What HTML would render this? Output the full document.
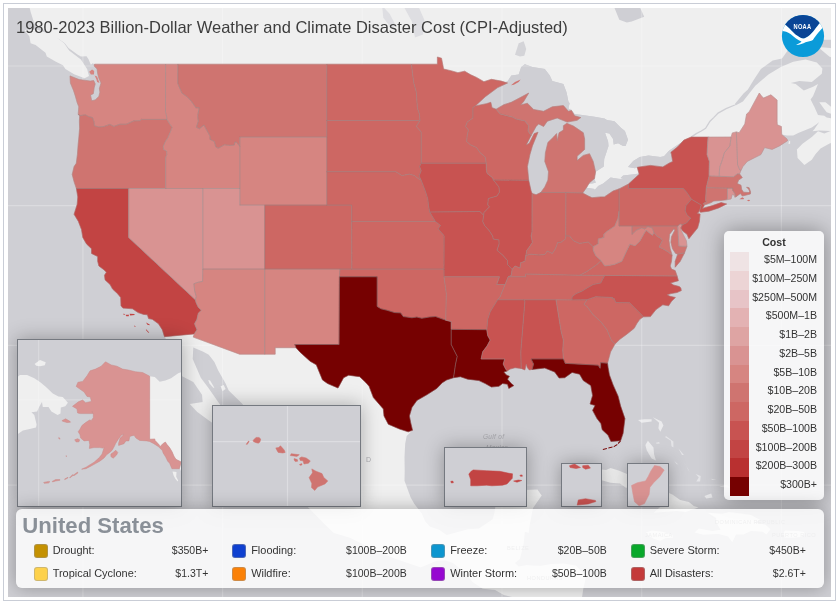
<!DOCTYPE html>
<html><head><meta charset="utf-8"><title>Billion-Dollar Disaster Cost Map</title>
<style>
html,body{margin:0;padding:0;background:#fff;}
body{width:839px;height:605px;position:relative;overflow:hidden;font-family:"Liberation Sans",sans-serif;}
.frame{position:absolute;left:3px;top:3px;width:833px;height:598px;border:1px solid #c9cdd6;box-sizing:border-box;}
.map{position:absolute;left:8px;top:8px;width:823px;height:589px;background:#cfcfd4;overflow:hidden;}
.map svg.m{position:absolute;left:0;top:0;}
.title{position:absolute;left:8px;top:7px;font-size:16.5px;color:#3d3d3d;white-space:nowrap;line-height:24px;}
.logo{position:absolute;left:773px;top:6px;}
.ins{position:absolute;border:1px solid #757980;background:#cfcfd4;overflow:hidden;box-shadow:0 0 18px rgba(0,0,0,0.3);}
.ins svg{display:block;}
.legend{position:absolute;left:716px;top:223px;width:100px;height:269px;background:rgba(255,255,255,0.8);border-radius:5px;box-shadow:0 0 22px rgba(0,0,0,0.36);}
.lt{position:absolute;left:0;width:100px;text-align:center;top:4px;font-weight:bold;font-size:10.6px;color:#333;line-height:14px;}
.lr{position:absolute;left:0;width:100px;height:18.73px;}
.sw{position:absolute;left:6px;top:0;width:19px;height:18.8px;}
.ll{position:absolute;right:7px;top:-2px;line-height:18.7px;font-size:10.6px;color:#333;white-space:nowrap;}
.bp{position:absolute;left:8.3px;top:500.8px;width:807.5px;height:79.5px;background:rgba(255,255,255,0.8);border-radius:6px;box-shadow:0 0 18px rgba(0,0,0,0.3);}
.bt{position:absolute;left:6px;top:4px;font-weight:bold;font-size:22.15px;color:#8a9098;line-height:26px;white-space:nowrap;}
.bs{position:absolute;width:12px;height:12px;border-radius:3px;border:1px solid rgba(150,150,150,0.45);box-sizing:content-box;}
.bl{position:absolute;font-size:10.95px;color:#333;line-height:15px;white-space:nowrap;}
.bv{position:absolute;font-size:10.5px;color:#333;line-height:15px;white-space:nowrap;}
</style></head><body>
<div class="frame"></div>
<div class="map">
<svg class="m" width="823" height="589" viewBox="0 0 823 589">
<g fill="#efefef" stroke="none">
<path d="M-15.9,-33.1L13.9,-33.1L10.2,-14.5L20.1,-6.4L22.6,3.7L26.3,15.6L33.8,20.6L42.5,27.4L51.2,31.3L56.8,35.2L60.5,40.0L69.8,46.7L72.9,48.6L78.5,48.3L80.4,51.1L82.2,55.3L82.9,56.8L84.7,55.3L86.5,56.2L102.1,63.8L244.9,65.7L394.0,65.7L431.2,63.8L456.1,69.4L480.9,78.7L495.8,76.8L499.5,75.0L503.3,67.5L510.7,66.6L513.2,59.1L516.9,56.2L524.4,59.1L536.8,61.0L541.8,67.5L544.3,73.1L555.4,75.9L558.5,84.2L560.4,93.4L561.6,95.2L560.4,100.6L563.5,102.4L566.6,106.0L574.1,106.9L586.5,108.7L596.4,110.5L598.9,112.0L606.4,113.2L612.6,119.4L616.9,123.0L620.0,131.8L617.5,137.9L615.1,137.9L610.1,135.3L605.7,136.5L605.1,130.9L601.4,125.6L597.0,124.7L600.1,133.5L600.5,137.9L596.2,150.9L595.8,158.6L587.7,163.7L586.5,170.5L587.7,174.7L584.0,175.5L579.7,175.5L579.0,179.7L586.5,180.9L586.5,182.2L590.2,178.0L595.2,175.5L602.6,169.6L610.1,170.8L616.3,171.3L612.6,170.1L615.1,167.4L626.2,166.2L631.0,165.4L629.3,159.3L626.9,160.3L620.0,158.9L625.2,152.9L631.8,149.1L640.5,147.4L652.3,149.1L656.0,148.3L661.0,142.8L670.9,136.1L683.1,129.1L698.3,134.4L723.1,134.4L741.7,123.9L760.4,123.9L773.7,126.5L779.0,127.4L785.2,127.4L790.8,124.7L797.6,122.1L803.8,119.4L808.8,115.9L811.3,114.1L806.3,121.2L804.5,123.3L811.3,122.4L822.5,123.0L828.7,123.9L828.7,111.4L818.7,109.6L816.3,107.8L810.0,106.9L806.3,98.8L802.6,91.6L805.1,87.9L810.0,75.9L805.1,78.7L795.8,82.4L787.7,75.9L782.7,75.0L791.4,73.1L803.8,74.1L813.8,65.7L814.4,60.4L808.8,54.4L797.6,51.5L785.2,53.8L772.8,59.1L760.4,66.6L747.3,77.8L734.9,93.4L727.5,97.4L726.8,96.1L735.5,85.5L739.9,81.5L745.5,72.2L752.9,61.0L764.7,52.5L774.0,50.6L786.4,33.3L803.8,31.3L816.3,31.7L841.1,32.3L841.1,-33.1L634.9,-33.1L631.2,-2.4L636.2,8.7L623.7,13.6L618.8,14.6L611.3,11.7L606.4,-0.3L598.9,-8.4L589.0,-33.1Z"/>
<path d="M16.4,21.9L28.8,21.5L46.2,27.4L56.2,35.2L61.1,42.5L72.9,51.5L79.1,61.0L81.0,67.9L76.6,70.3L66.1,66.2L57.4,61.0L54.9,57.2L47.5,53.4L38.8,48.6L37.5,44.8L27.6,37.1L22.6,35.2L21.4,28.4Z"/>
<path d="M-15.9,-6.4L-25.8,-22.8L-34.5,-29.0L-28.3,-14.5L-18.4,-2.4Z"/>
<path d="M577.8,114.1L586.5,112.0L593.9,112.3L597.7,117.7L590.2,119.4L580.3,116.4Z"/>
<path d="M811.3,94.3L815.6,100.3L818.7,104.2L828.7,107.8L834.9,111.4L841.1,103.3L828.7,103.3L817.5,94.3Z"/>
<path d="M810.0,39.1L822.5,40.0L841.1,50.6L834.9,53.4L821.2,48.6Z"/>
<path d="M828.7,123.9L822.5,123.0L816.3,125.6L810.0,123.3L803.8,129.1L794.5,135.8L788.9,141.4L789.6,150.0L796.4,156.9L803.8,151.7L807.6,146.0L812.5,140.5L821.6,135.6L834.9,130.9L834.9,123.9Z"/>
<path d="M780.9,133.5L782.1,132.7L782.1,135.8L780.5,136.1Z"/>
<path d="M156.5,328.7L162.7,338.7L166.7,351.0L171.0,359.7L174.1,368.3L185.3,374.0L194.0,386.8L194.6,393.9L181.8,396.0L189.0,403.7L200.2,412.0L210.2,419.0L216.4,428.6L218.9,441.0L230.0,449.1L241.8,457.3L246.2,464.3L249.3,462.0L251.8,455.9L241.2,446.4L236.2,438.2L228.2,421.7L221.3,410.6L216.7,403.0L210.2,393.9L200.8,380.4L192.8,369.7L184.7,351.0L185.3,339.4L195.3,343.8L200.8,346.7L206.4,353.9L210.2,362.6L217.6,375.5L220.7,382.6L233.8,395.3L240.0,403.7L251.1,412.0L256.7,427.2L266.1,434.1L271.0,442.3L289.4,460.0L298.3,469.4L303.3,482.8L303.9,494.1L298.3,497.4L315.7,515.3L325.7,525.1L341.8,529.7L349.9,533.8L370.4,544.0L387.8,551.1L405.5,556.9L412.6,559.5L428.8,552.8L437.4,552.4L444.9,555.0L456.1,564.0L464.8,574.3L474.7,580.7L487.1,582.0L495.8,587.1L512.0,590.9L519.4,590.9L523.1,594.8L526.9,599.8L574.1,599.8L573.4,593.5L575.3,580.7L578.4,567.9L567.9,557.6L555.4,555.6L543.0,556.0L533.1,557.8L524.4,557.6L518.8,556.9L510.7,558.5L507.0,555.0L512.0,551.1L515.7,535.5L516.9,523.8L520.7,525.1L521.9,515.9L525.0,500.1L533.7,487.5L529.4,481.5L515.7,482.1L497.7,485.5L489.0,488.8L488.4,491.5L486.5,504.7L484.6,511.3L471.0,520.5L459.8,521.2L438.7,527.1L431.2,521.8L421.9,518.5L417.2,513.3L413.8,505.4L406.4,496.1L402.7,489.5L396.5,472.8L396.7,462.7L396.5,449.1L397.2,435.5L398.7,427.9L404.5,422.3L387.8,410.6L369.1,382.6L356.7,362.6L329.4,368.3L313.2,356.8L294.6,336.5L257.4,339.4L232.5,339.4L189.0,323.2L164.2,324.7Z"/>
<path d="M200.2,371.9L202.1,372.6L206.4,379.7L205.2,379.7L201.5,375.5Z"/>
<path d="M212.6,378.3L215.7,376.9L217.6,381.1L214.5,383.3Z"/>
<path d="M556.1,477.9L567.9,467.4L577.8,463.0L588.0,460.7L598.0,462.0L602.6,460.0L611.3,462.7L623.7,468.1L636.2,471.4L648.6,478.1L653.6,481.5L664.7,486.8L672.2,492.1L680.9,494.1L685.8,498.1L690.4,499.4L677.8,504.1L669.1,503.1L645.7,504.7L653.3,498.1L643.6,493.5L636.2,488.8L630.0,482.1L617.5,479.5L611.9,475.5L602.6,474.8L592.7,472.1L589.0,466.7L580.3,472.1L572.8,473.4L564.1,478.1Z"/>
<path d="M579.0,478.8L585.2,477.5L585.9,481.5L580.9,483.5Z"/>
<path d="M637.8,524.4L643.6,522.5L654.8,523.8L664.7,527.1L665.0,529.7L657.3,530.3L652.3,532.7L646.1,531.0L639.9,527.1Z"/>
<path d="M699.5,504.7L714.4,505.8L721.2,504.1L733.0,505.4L743.0,507.1L752.3,512.0L746.7,514.6L757.3,516.6L762.5,521.2L758.5,526.4L754.5,523.8L743.0,523.1L735.5,526.4L728.1,526.4L724.3,534.2L720.0,528.6L710.3,526.0L699.5,526.4L695.2,526.7L686.5,524.4L690.8,520.5L704.5,523.1L712.5,521.8L708.2,514.6L708.2,510.0Z"/>
<path d="M775.6,524.2L777.1,522.5L790.2,522.9L796.1,524.0L796.4,526.4L793.3,529.0L785.2,529.7L776.5,529.7Z"/>
<path d="M630.0,412.0L636.2,411.3L643.6,411.3L643.6,413.4L633.7,414.8Z" fill="#ebebed"/>
<path d="M644.9,409.2L653.6,413.4L655.4,417.6L652.3,423.8L650.4,420.3L651.1,414.8Z" fill="#ebebed"/>
<path d="M639.9,432.7L645.5,439.6L646.1,446.4L648.0,452.5L643.6,450.5L638.7,442.3L637.4,436.9Z" fill="#ebebed"/>
<path d="M648.0,434.8L651.1,434.1L651.7,435.5L648.6,435.8Z" fill="#e4e4e7"/>
<path d="M657.9,427.9L665.4,433.4L665.4,439.6L663.5,438.2L662.9,432.7L657.3,429.3Z" fill="#e4e4e7"/>
<path d="M670.3,440.3L675.9,447.1L674.0,447.1L672.2,443.7Z" fill="#e4e4e7"/>
<path d="M666.0,452.5L670.3,456.6L668.5,455.9Z" fill="#e4e4e7"/>
<path d="M675.9,453.9L681.5,464.0L680.3,461.3L677.2,456.6Z" fill="#e4e4e7"/>
<path d="M687.7,466.1L692.7,468.1L692.1,473.4L688.3,473.4L690.8,469.4Z" fill="#e4e4e7"/>
<path d="M696.4,488.1L703.2,485.5L704.5,489.5L698.3,490.5Z" fill="#ebebed"/>
<path d="M702.6,470.8L708.2,471.4L704.5,472.1Z" fill="#e4e4e7"/>
<path d="M711.3,478.8L718.1,476.8L723.1,479.5L718.1,479.5Z" fill="#e4e4e7"/>
</g>
<g fill="#cfcfd4" stroke="none">
<path d="M462.3,104.2L474.7,87.9L489.6,77.8L499.5,73.1L503.3,67.5L510.7,66.6L513.2,59.1L516.9,56.2L524.4,59.1L536.8,61.0L541.8,67.5L544.3,73.1L555.4,75.9L558.5,84.2L560.4,93.4L561.6,95.2L560.4,100.6L563.5,102.4L561.6,106.0L543.0,107.8L518.2,106.0L493.3,106.0Z"/>
<path d="M515.7,141.4L521.9,122.1L536.8,109.6L553.0,107.8L560.4,113.2L553.0,129.1L544.3,155.2L544.3,180.5L530.6,192.2L518.2,187.2L515.7,163.7Z"/>
<path d="M556.7,113.2L562.9,100.6L563.5,102.4L566.6,106.0L574.1,106.9L586.5,108.7L596.4,110.5L598.9,112.0L606.4,113.2L612.6,119.4L616.9,123.0L620.0,131.8L617.5,137.9L615.1,137.9L610.1,135.3L605.7,136.5L605.1,130.9L601.4,125.6L597.0,124.7L600.1,133.5L600.5,137.9L596.2,150.9L595.8,158.6L587.7,163.7L586.5,170.5L587.7,174.7L584.0,175.5L579.7,175.5L579.0,179.7L576.6,182.2L572.8,177.2L577.8,167.1L580.3,158.6L571.6,156.9L565.4,153.4L567.9,137.9L567.9,125.6L556.7,120.3Z"/>
<path d="M579.0,179.7L586.5,180.9L586.5,182.2L590.2,178.0L595.2,175.5L602.6,169.6L610.1,170.8L616.3,171.3L612.6,170.1L615.1,167.4L626.2,166.2L631.0,165.4L634.9,168.8L623.7,180.5L605.1,190.5L586.5,193.8L571.6,188.9L574.1,180.5Z"/>
<path d="M629.3,159.3L626.9,160.3L620.0,158.9L625.2,152.9L631.8,149.1L640.5,147.4L652.3,149.1L656.0,148.3L661.0,142.8L670.9,136.1L679.6,130.4L679.6,136.1L668.5,146.6L667.2,158.6L654.8,163.7L636.2,162.0L630.0,163.7Z"/>
<path d="M507.0,46.7L510.7,35.2L515.7,33.3L518.2,41.0L516.3,47.7L512.0,48.6Z" fill="#d4d4d8"/>
<path d="M407.0,29.4L415.1,26.4L416.3,11.7L410.1,-2.4L405.2,-22.8L386.5,-33.1L395.2,-2.4L403.9,13.6Z" fill="#dedee2"/>
<path d="M382.8,19.6L387.8,17.6L381.6,5.7L374.1,-2.4L375.3,9.7Z" fill="#dedee2"/>
<path d="M700.1,128.3L702.0,129.1L701.4,137.9L699.5,146.6L698.9,139.6Z"/>
</g>
<path d="M683.1,129.1L688.3,125.6L693.3,123.0L697.6,120.3L702.0,113.2L705.7,109.6L710.1,105.1L718.1,100.6L726.8,97.0" fill="none" stroke="#cfcfd4" stroke-width="1.3"/>
<g stroke="#fff" stroke-opacity="0.25" stroke-width="1.2" fill="none">
<path d="M74.9,0V589"/>
<path d="M214.6,0V589"/>
<path d="M354.3,0V589"/>
<path d="M494.0,0V589"/>
<path d="M633.7,0V589"/>
<path d="M773.4,0V589"/>
<path d="M0,58.0H823"/>
<path d="M0,197.7H823"/>
<path d="M0,337.4H823"/>
<path d="M0,477.1H823"/>
</g>
<g stroke-linejoin="round">
<path d="M86.5,56.2L157.6,56.2L157.5,103.7L158.5,107.8L159.0,111.4L133.4,111.4L131.9,112.7L125.7,112.9L118.3,116.2L112.0,116.2L105.8,118.4L101.9,116.4L95.9,118.5L90.9,119.1L86.3,117.7L86.0,113.7L84.5,109.6L81.0,108.7L77.3,106.8L72.3,107.5L70.2,106.4L70.8,98.8L69.2,94.7L67.3,87.9L65.5,82.4L62.4,75.0L62.0,67.9L71.1,71.6L77.9,72.4L82.2,73.1L85.7,72.6L87.2,75.9L86.2,79.6L85.3,85.7L82.5,87.0L83.7,92.8L87.2,91.9L90.9,88.4L91.9,84.2L91.4,80.5L93.0,75.0L90.9,70.3L89.7,65.7L89.1,61.0L86.2,58.1L86.5,56.2Z" fill="#d68581" stroke="#d68581" stroke-width="0.5"/>
<path d="M70.2,106.4L72.3,107.5L77.3,106.8L81.0,108.7L84.5,109.6L86.0,113.7L86.3,117.7L90.9,119.1L95.9,118.5L101.9,116.4L105.8,118.4L112.0,116.2L118.3,116.2L125.7,112.9L131.9,112.7L133.4,111.4L159.0,111.4L161.1,115.0L164.2,119.4L162.0,124.7L159.9,129.7L157.4,133.5L155.3,138.2L155.5,141.4L158.6,143.1L158.9,146.6L157.6,149.5L157.6,180.5L120.7,180.5L68.4,180.5L66.1,173.8L64.2,166.4L66.1,158.6L68.3,155.2L69.4,146.6L70.2,136.1L70.9,129.1L71.6,120.3L71.4,113.2L71.7,107.8L70.2,106.4Z" fill="#cf7470" stroke="#cf7470" stroke-width="0.5"/>
<path d="M68.4,180.5L120.7,180.5L120.7,229.5L187.4,291.8L188.2,294.8L190.3,299.3L193.4,302.3L190.3,305.3L189.0,311.3L186.6,315.8L189.0,321.7L186.3,325.9L156.5,328.7L154.3,321.7L150.5,315.8L144.3,311.3L140.6,310.6L139.4,306.8L135.6,306.4L130.1,304.6L124.5,300.8L114.9,300.1L113.0,297.8L112.7,289.5L109.6,285.7L104.6,281.1L102.1,276.5L97.1,271.9L96.5,267.3L98.4,264.2L95.9,261.7L90.9,258.0L89.7,253.3L89.7,248.6L83.5,245.4L83.5,240.7L78.5,235.9L74.8,229.5L73.5,221.5L70.4,213.4L66.1,206.3L69.2,196.3L69.8,188.9L68.4,180.5Z" fill="#c24443" stroke="#c24443" stroke-width="0.5"/>
<path d="M120.7,180.5L157.6,180.5L194.8,180.5L194.8,261.1L194.6,273.4L190.3,274.2L185.9,275.7L186.6,282.6L188.2,288.7L187.4,291.8L120.7,229.5L120.7,180.5Z" fill="#d99392" stroke="#d99392" stroke-width="0.5"/>
<path d="M157.6,56.2L169.8,56.2L169.8,75.4L173.9,85.1L179.1,88.8L183.5,93.4L187.8,99.7L191.2,99.7L189.7,107.8L190.3,113.2L188.4,119.3L191.5,120.7L195.9,117.0L197.7,120.3L202.1,128.3L202.1,131.4L206.4,133.5L207.7,138.8L210.2,140.3L216.4,136.8L222.0,137.4L226.3,137.0L226.9,134.0L228.2,133.9L231.9,138.4L231.9,180.5L194.8,180.5L157.6,180.5L157.6,149.5L158.9,146.6L158.6,143.1L155.5,141.4L155.3,138.2L157.4,133.5L159.9,129.7L162.0,124.7L164.2,119.4L161.1,115.0L159.0,111.4L158.5,107.8L157.5,103.7L157.6,56.2Z" fill="#d68581" stroke="#d68581" stroke-width="0.5"/>
<path d="M169.8,56.2L318.8,56.2L318.8,112.5L318.8,129.1L231.9,129.1L231.9,138.4L228.2,133.9L226.9,134.0L226.3,137.0L222.0,137.4L216.4,136.8L210.2,140.3L207.7,138.8L206.4,133.5L202.1,131.4L202.1,128.3L197.7,120.3L195.9,117.0L191.5,120.7L188.4,119.3L190.3,113.2L189.7,107.8L191.2,99.7L187.8,99.7L183.5,93.4L179.1,88.8L173.9,85.1L169.8,75.4L169.8,56.2Z" fill="#cf7470" stroke="#cf7470" stroke-width="0.5"/>
<path d="M231.9,138.4L231.9,129.1L318.8,129.1L318.8,163.7L318.8,197.1L256.7,197.1L231.9,197.1L231.9,180.5L231.9,138.4Z" fill="#d68581" stroke="#d68581" stroke-width="0.5"/>
<path d="M194.8,180.5L231.9,180.5L231.9,197.1L256.7,197.1L256.7,261.1L194.8,261.1L194.8,180.5Z" fill="#d99392" stroke="#d99392" stroke-width="0.5"/>
<path d="M194.8,261.1L256.7,261.1L256.7,346.2L231.6,346.2L185.2,329.1L186.3,325.9L189.0,321.7L186.6,315.8L189.0,311.3L190.3,305.3L193.4,302.3L190.3,299.3L188.2,294.8L187.4,291.8L188.2,288.7L186.6,282.6L185.9,275.7L190.3,274.2L194.6,273.4L194.8,261.1Z" fill="#d68581" stroke="#d68581" stroke-width="0.5"/>
<path d="M256.7,261.1L331.9,261.1L331.4,268.8L331.1,336.5L286.8,336.5L288.0,339.7L267.2,339.7L267.2,346.2L256.7,346.2L256.7,261.1Z" fill="#d68581" stroke="#d68581" stroke-width="0.5"/>
<path d="M256.7,197.1L318.8,197.1L343.7,197.1L343.7,213.4L343.8,261.1L331.9,261.1L256.7,261.1L256.7,197.1Z" fill="#cd6763" stroke="#cd6763" stroke-width="0.5"/>
<path d="M318.8,56.2L403.5,56.2L404.5,65.7L405.8,75.0L408.3,84.2L408.9,93.4L409.5,100.6L411.4,106.0L411.9,112.5L318.8,112.5L318.8,56.2Z" fill="#cd6763" stroke="#cd6763" stroke-width="0.5"/>
<path d="M318.8,112.5L411.9,112.5L408.3,118.5L413.2,123.9L413.2,155.2L411.6,158.6L413.2,162.8L411.1,167.9L413.2,172.3L410.1,170.5L406.4,167.6L401.4,166.1L394.0,167.6L387.8,163.7L318.8,163.7L318.8,129.1L318.8,112.5Z" fill="#cd6763" stroke="#cd6763" stroke-width="0.5"/>
<path d="M318.8,163.7L387.8,163.7L394.0,167.6L401.4,166.1L406.4,167.6L410.1,170.5L413.2,172.3L415.1,177.2L417.6,183.9L419.7,190.5L420.1,193.8L420.7,198.8L421.7,204.0L424.4,208.6L427.4,213.4L343.7,213.4L343.7,197.1L318.8,197.1L318.8,163.7Z" fill="#cd6763" stroke="#cd6763" stroke-width="0.5"/>
<path d="M343.7,213.4L427.4,213.4L432.5,217.5L430.0,220.7L436.1,227.8L436.0,261.1L343.8,261.1L343.7,213.4Z" fill="#cd6763" stroke="#cd6763" stroke-width="0.5"/>
<path d="M331.9,261.1L343.8,261.1L436.0,261.1L436.0,268.8L438.3,285.7L437.7,312.2L427.5,308.6L421.3,309.1L413.8,310.3L408.9,309.1L403.9,309.8L395.2,308.6L392.7,304.9L386.5,304.6L379.1,302.3L372.9,300.8L369.1,298.4L369.1,268.8L331.4,268.8L331.9,261.1Z" fill="#cd6763" stroke="#cd6763" stroke-width="0.5"/>
<path d="M331.4,268.8L369.1,268.8L369.1,298.4L372.9,300.8L379.1,302.3L386.5,304.6L392.7,304.9L395.2,308.6L403.9,309.8L408.9,309.1L413.8,310.3L421.3,309.1L427.5,308.6L437.7,312.2L443.2,313.6L443.2,321.4L443.2,336.5L446.1,342.3L449.2,348.4L447.4,356.8L446.8,361.1L445.5,369.7L438.7,371.9L434.3,374.7L428.8,380.4L418.8,386.8L408.9,392.4L403.9,399.5L401.4,407.9L402.7,414.8L404.5,422.3L400.2,423.8L391.5,421.0L380.3,416.2L376.0,407.9L375.3,400.9L365.4,389.6L361.1,378.3L358.0,374.7L351.7,368.7L340.6,367.2L335.6,369.7L330.0,380.0L319.5,375.5L314.5,371.9L308.3,356.8L302.1,353.2L292.1,344.2L288.0,339.7L286.8,336.5L331.1,336.5L331.4,268.8Z" fill="#760101" stroke="#760101" stroke-width="0.5"/>
<path d="M403.5,56.2L429.4,56.2L429.4,49.0L433.5,50.2L435.6,61.0L443.7,62.9L449.9,64.7L456.7,63.2L462.3,66.6L468.5,69.4L475.9,73.7L483.4,71.3L493.3,73.1L499.5,75.0L489.6,79.6L477.2,88.8L467.3,97.9L464.9,99.6L464.9,110.0L459.2,114.1L457.6,118.5L460.4,122.1L459.2,127.4L458.6,133.5L462.3,136.7L468.5,139.6L472.2,144.8L477.2,149.1L478.2,155.2L413.2,155.2L413.2,123.9L408.3,118.5L411.9,112.5L411.4,106.0L409.5,100.6L408.9,93.4L408.3,84.2L405.8,75.0L404.5,65.7L403.5,56.2Z" fill="#cd6763" stroke="#cd6763" stroke-width="0.5"/>
<path d="M413.2,155.2L478.2,155.2L478.4,162.0L479.1,165.4L484.6,169.8L485.4,172.0L490.9,178.9L491.5,183.9L489.0,188.0L480.3,190.5L479.7,197.1L481.5,198.8L475.9,204.5L475.7,207.3L471.9,203.5L421.7,204.0L420.7,198.8L420.1,193.8L419.7,190.5L417.6,183.9L415.1,177.2L413.2,172.3L411.1,167.9L413.2,162.8L411.6,158.6L413.2,155.2Z" fill="#c85351" stroke="#c85351" stroke-width="0.5"/>
<path d="M421.7,204.0L471.9,203.5L475.7,207.3L474.7,213.4L476.6,217.5L481.5,223.1L484.6,227.9L485.3,231.1L490.9,231.9L491.1,235.9L489.0,242.3L494.6,247.0L499.5,252.5L499.5,256.4L504.1,261.4L503.3,267.3L500.2,268.8L498.3,273.4L497.1,276.5L488.7,276.5L491.5,268.8L436.0,268.8L436.0,261.1L436.1,227.8L430.0,220.7L432.5,217.5L427.4,213.4L424.4,208.6L421.7,204.0Z" fill="#c85351" stroke="#c85351" stroke-width="0.5"/>
<path d="M436.0,268.8L491.5,268.8L488.7,276.5L497.1,276.5L494.6,282.6L492.1,288.7L489.6,291.8L485.9,297.8L482.2,303.8L479.7,311.3L478.8,321.7L443.2,321.4L443.2,313.6L437.7,312.2L438.3,285.7L436.0,268.8Z" fill="#cd6763" stroke="#cd6763" stroke-width="0.5"/>
<path d="M443.2,321.4L478.8,321.7L479.7,327.6L482.2,332.1L479.1,337.9L474.7,343.8L473.1,351.0L496.7,351.0L495.2,356.1L497.7,361.1L499.3,362.9L495.8,364.0L498.3,366.9L501.4,368.3L499.5,371.2L503.3,375.5L505.8,377.6L500.8,380.4L499.5,376.2L494.6,375.5L490.9,378.3L483.4,379.0L477.2,375.5L471.0,372.6L466.0,371.9L459.8,371.2L452.4,368.7L445.5,369.7L446.8,361.1L447.4,356.8L449.2,348.4L446.1,342.3L443.2,336.5L443.2,321.4Z" fill="#760101" stroke="#760101" stroke-width="0.5"/>
<path d="M467.3,97.9L478.4,95.7L482.8,94.3L484.0,99.7L488.1,101.2L492.1,106.0L504.5,109.1L508.2,111.1L516.9,112.9L520.7,117.7L520.0,123.0L523.1,127.4L518.2,137.0L521.3,135.3L526.2,125.6L530.0,124.2L526.9,131.8L524.4,137.9L521.9,146.6L519.4,158.6L520.7,172.3L485.4,172.0L484.6,169.8L479.1,165.4L478.4,162.0L478.2,155.2L477.2,149.1L472.2,144.8L468.5,139.6L462.3,136.7L458.6,133.5L459.2,127.4L460.4,122.1L457.6,118.5L459.2,114.1L464.9,110.0L464.9,99.6L467.3,97.9Z" fill="#cd6763" stroke="#cd6763" stroke-width="0.5"/>
<path d="M485.4,172.0L520.7,172.3L523.1,183.0L524.1,185.5L524.0,223.9L523.1,227.9L524.4,234.3L521.3,239.1L518.8,242.3L517.6,248.6L516.9,253.3L512.6,254.8L512.0,260.0L507.0,258.0L504.1,261.4L499.5,256.4L499.5,252.5L494.6,247.0L489.0,242.3L491.1,235.9L490.9,231.9L485.3,231.1L484.6,227.9L481.5,223.1L476.6,217.5L474.7,213.4L475.7,207.3L475.9,204.5L481.5,198.8L479.7,197.1L480.3,190.5L489.0,188.0L491.5,183.9L490.9,178.9L485.4,172.0Z" fill="#c85351" stroke="#c85351" stroke-width="0.5"/>
<path d="M532.8,184.5L536.8,178.9L539.9,172.1L540.5,163.7L536.8,153.4L537.4,144.8L539.9,134.4L545.5,129.1L548.6,125.6L549.2,132.7L551.1,124.7L555.4,122.1L555.4,117.7L558.8,115.3L565.4,118.0L575.3,124.7L576.6,130.9L576.6,141.4L569.1,148.3L569.1,152.6L575.3,147.4L581.5,145.7L585.2,153.4L587.5,163.7L586.5,170.5L581.5,174.7L578.4,179.7L574.7,185.0L557.9,184.5L532.8,184.5Z" fill="#cf7470" stroke="#cf7470" stroke-width="0.5"/>
<path d="M488.1,101.2L495.8,96.7L503.3,94.3L512.0,89.7L520.7,85.1L515.7,93.4L512.6,97.0L519.4,95.2L525.6,101.5L535.6,103.3L544.3,98.8L555.4,97.6L560.4,103.3L563.5,102.4L566.6,107.8L572.8,109.6L569.1,112.3L559.2,114.1L549.2,110.0L539.3,113.2L535.6,118.5L530.6,115.9L528.1,118.5L523.1,127.4L520.0,123.0L520.7,117.7L516.9,112.9L508.2,111.1L504.5,109.1L492.1,106.0L488.1,101.2Z" fill="#cf7470" stroke="#cf7470" stroke-width="0.5"/>
<path d="M524.1,185.5L528.1,186.7L532.8,184.5L557.9,184.5L557.7,227.9L557.3,231.1L553.0,234.3L549.8,234.3L547.4,240.7L544.3,245.4L539.3,243.0L536.8,246.5L530.6,247.0L523.1,246.2L519.4,247.0L517.6,248.6L518.8,242.3L521.3,239.1L524.4,234.3L523.1,227.9L524.0,223.9L524.1,185.5Z" fill="#cd6763" stroke="#cd6763" stroke-width="0.5"/>
<path d="M557.9,184.5L574.7,185.0L580.3,188.0L584.0,189.7L592.7,188.9L596.4,188.9L605.1,183.0L611.1,180.9L611.1,203.0L610.1,210.2L606.7,218.3L599.5,223.1L595.8,226.3L595.8,229.5L590.2,231.1L590.2,235.9L585.2,238.8L580.3,234.0L571.6,235.4L565.4,232.7L561.6,227.9L557.7,227.9L557.9,184.5Z" fill="#cd6763" stroke="#cd6763" stroke-width="0.5"/>
<path d="M517.6,248.6L519.4,247.0L523.1,246.2L530.6,247.0L536.8,246.5L539.3,243.0L544.3,245.4L547.4,240.7L549.8,234.3L553.0,234.3L557.3,231.1L557.7,227.9L561.6,227.9L565.4,232.7L571.6,235.4L580.3,234.0L585.2,238.8L585.2,242.3L587.7,247.8L593.1,252.6L589.0,256.4L579.0,263.4L571.8,267.3L517.6,266.0L517.6,268.8L500.2,268.8L503.3,267.3L504.1,261.4L507.0,258.0L512.0,260.0L512.6,254.8L516.9,253.3L517.6,248.6Z" fill="#cd6763" stroke="#cd6763" stroke-width="0.5"/>
<path d="M500.2,268.8L517.6,268.8L517.6,266.0L571.8,267.3L596.7,267.4L592.7,275.0L585.2,276.5L579.0,280.0L574.1,283.1L567.9,285.7L564.1,288.7L563.9,291.9L548.0,291.8L515.7,291.8L489.6,291.8L492.1,288.7L494.6,282.6L497.1,276.5L498.3,273.4L500.2,268.8Z" fill="#cd6763" stroke="#cd6763" stroke-width="0.5"/>
<path d="M489.6,291.8L515.7,291.8L516.9,293.3L512.8,343.8L513.2,360.4L507.0,359.7L502.0,361.1L499.3,362.9L497.7,361.1L495.2,356.1L496.7,351.0L473.1,351.0L474.7,343.8L479.1,337.9L482.2,332.1L479.7,327.6L478.8,321.7L479.7,311.3L482.2,303.8L485.9,297.8L489.6,291.8Z" fill="#c85351" stroke="#c85351" stroke-width="0.5"/>
<path d="M515.7,291.8L548.0,291.8L553.2,323.7L555.4,332.1L554.8,342.3L555.4,351.0L523.1,351.0L525.6,356.1L524.1,361.4L521.3,361.9L519.4,359.7L518.2,356.1L516.9,361.9L513.2,360.4L512.8,343.8L516.9,293.3L515.7,291.8Z" fill="#c85351" stroke="#c85351" stroke-width="0.5"/>
<path d="M548.0,291.8L563.9,291.9L579.0,291.8L575.9,296.3L579.0,298.6L585.2,306.8L593.3,314.3L598.9,321.7L603.3,332.1L607.0,336.0L602.6,343.8L599.5,355.2L592.7,354.7L592.1,360.3L590.2,357.2L557.2,355.4L555.4,351.0L554.8,342.3L555.4,332.1L553.2,323.7L548.0,291.8Z" fill="#cd6763" stroke="#cd6763" stroke-width="0.5"/>
<path d="M524.1,361.4L536.8,360.0L546.7,364.0L551.1,370.0L556.7,369.7L564.1,364.4L571.6,366.2L575.3,372.6L582.8,377.6L584.6,387.5L582.1,396.0L587.1,397.4L584.6,402.3L589.0,410.6L592.9,415.5L594.2,421.7L600.1,427.2L602.9,433.4L612.6,432.7L615.1,425.2L616.9,410.6L612.6,398.1L610.1,388.2L605.1,376.9L601.4,366.9L600.1,359.7L599.5,355.2L592.7,354.7L592.1,360.3L590.2,357.2L557.2,355.4L555.4,351.0L523.1,351.0L525.6,356.1L524.1,361.4Z" fill="#760101" stroke="#760101" stroke-width="0.5"/>
<path d="M579.0,291.8L587.7,288.7L604.5,289.5L604.5,291.0L606.0,290.3L607.8,294.5L621.6,294.8L635.5,308.8L631.8,311.3L628.7,315.8L626.2,320.3L618.8,326.2L611.9,331.3L607.0,336.0L603.3,332.1L598.9,321.7L593.3,314.3L585.2,306.8L579.0,298.6L575.9,296.3L579.0,291.8Z" fill="#cd6763" stroke="#cd6763" stroke-width="0.5"/>
<path d="M596.7,267.4L669.1,268.0L670.4,272.7L666.0,273.9L662.5,275.0L665.5,277.0L671.4,278.6L672.8,280.0L673.3,282.6L669.0,284.5L663.0,285.6L659.0,286.8L662.0,288.3L667.4,289.5L663.5,293.3L660.6,297.8L654.8,296.8L648.0,301.6L642.4,308.6L635.5,308.8L621.6,294.8L607.8,294.5L606.0,290.3L604.5,291.0L604.5,289.5L587.7,288.7L579.0,291.8L563.9,291.9L564.1,288.7L567.9,285.7L574.1,283.1L579.0,280.0L585.2,276.5L592.7,275.0L596.7,267.4Z" fill="#c85351" stroke="#c85351" stroke-width="0.5"/>
<path d="M593.1,252.6L596.7,258.0L602.3,257.2L606.4,256.4L613.8,253.3L621.9,236.2L627.1,237.8L631.6,233.4L638.0,222.2L644.5,227.3L645.9,224.4L648.6,227.9L653.3,230.7L654.3,232.7L651.1,239.1L654.8,240.7L659.8,243.8L664.1,247.0L663.5,253.3L662.2,258.0L663.5,261.1L667.2,262.6L669.1,268.0L596.7,267.4L571.8,267.3L579.0,263.4L589.0,256.4L593.1,252.6Z" fill="#cd6763" stroke="#cd6763" stroke-width="0.5"/>
<path d="M669.7,246.2L667.2,253.3L667.2,259.2L672.2,253.3L676.5,244.9L669.7,246.2Z" fill="#cd6763" stroke="#cd6763" stroke-width="0.5"/>
<path d="M611.1,203.0L611.1,218.0L624.0,218.0L624.0,226.3L628.7,222.0L633.7,219.9L636.8,221.0L639.9,218.6L644.2,219.9L645.9,224.4L644.5,227.3L638.0,222.2L631.6,233.4L627.1,237.8L621.9,236.2L613.8,253.3L606.4,256.4L602.3,257.2L596.7,258.0L593.1,252.6L587.7,247.8L585.2,242.3L585.2,238.8L590.2,235.9L590.2,231.1L595.8,229.5L595.8,226.3L599.5,223.1L606.7,218.3L610.1,210.2L611.1,203.0Z" fill="#d68581" stroke="#d68581" stroke-width="0.5"/>
<path d="M624.0,218.0L669.8,218.0L670.9,238.1L679.0,238.3L676.5,244.9L669.7,246.2L667.6,245.4L664.5,240.7L662.9,234.3L663.5,228.7L666.8,222.3L666.0,220.7L661.6,226.3L661.0,232.7L662.2,240.7L664.1,247.0L659.8,243.8L654.8,240.7L651.1,239.1L654.3,232.7L653.3,230.7L648.6,227.9L645.9,224.4L644.2,219.9L639.9,218.6L636.8,221.0L633.7,219.9L628.7,222.0L624.0,226.3L624.0,218.0Z" fill="#cf7470" stroke="#cf7470" stroke-width="0.5"/>
<path d="M669.8,218.0L672.2,216.0L674.4,216.7L672.8,221.5L674.7,225.5L678.4,232.7L679.0,238.3L670.9,238.1L669.8,218.0Z" fill="#d99392" stroke="#d99392" stroke-width="0.5"/>
<path d="M611.1,180.9L620.5,176.0L620.5,180.5L675.3,180.5L678.8,184.4L683.4,191.2L678.0,197.6L677.2,202.9L679.0,206.9L682.7,210.2L678.4,215.1L674.4,216.7L672.2,216.0L669.8,218.0L624.0,218.0L611.1,218.0L611.1,203.0L611.1,180.9Z" fill="#cd6763" stroke="#cd6763" stroke-width="0.5"/>
<path d="M683.4,191.2L693.3,197.1L691.7,202.0L689.0,205.3L692.1,206.1L691.4,213.4L689.6,219.9L687.1,223.1L680.9,230.7L679.0,226.3L674.7,223.1L672.8,219.9L674.4,216.7L678.4,215.1L682.7,210.2L679.0,206.9L677.2,202.9L678.0,197.6L683.4,191.2Z" fill="#c85351" stroke="#c85351" stroke-width="0.5"/>
<path d="M620.5,176.0L631.2,166.2L629.3,159.3L642.4,157.4L654.8,158.9L661.0,155.2L664.7,153.4L663.5,146.6L662.9,144.3L669.7,138.8L675.9,132.1L683.1,129.1L700.1,129.1L699.5,137.9L699.1,146.6L701.4,153.4L701.1,167.9L698.3,179.7L697.6,192.2L698.5,193.8L695.4,195.5L696.3,197.1L694.5,200.4L704.5,197.6L713.2,194.6L718.6,196.0L710.7,199.9L700.8,203.2L692.7,204.2L691.6,203.3L693.3,197.1L683.4,191.2L678.8,184.4L675.3,180.5L620.5,180.5L620.5,176.0Z" fill="#c85351" stroke="#c85351" stroke-width="0.5"/>
<path d="M698.3,179.7L719.4,180.2L719.4,190.2L718.6,191.8L712.5,192.5L705.7,193.0L703.2,194.6L696.3,197.1L695.4,195.5L698.5,193.8L697.6,192.2L698.3,179.7Z" fill="#cf7470" stroke="#cf7470" stroke-width="0.5"/>
<path d="M719.4,180.2L724.6,180.2L724.6,182.2L726.8,185.5L727.8,188.9L726.8,189.3L726.2,187.2L724.3,186.4L723.1,191.0L718.6,191.8L719.4,190.2L719.4,180.2Z" fill="#d99392" stroke="#d99392" stroke-width="0.5"/>
<path d="M701.1,167.9L711.2,168.3L725.6,168.8L726.2,168.1L729.3,165.9L731.6,165.9L734.3,169.6L730.6,172.1L729.3,175.5L733.0,177.2L733.7,181.4L735.5,184.2L740.5,184.5L741.7,183.5L740.9,181.4L739.3,180.0L738.6,179.2L741.1,179.7L742.6,183.9L742.4,186.0L734.3,188.0L732.4,185.5L727.8,188.9L726.8,185.5L724.6,182.2L724.6,180.2L719.4,180.2L698.3,179.7L701.1,167.9Z" fill="#cf7470" stroke="#cf7470" stroke-width="0.5"/>
<path d="M700.1,129.1L723.1,129.0L721.9,137.9L716.3,144.8L714.4,151.7L711.9,158.6L711.3,163.7L711.2,168.3L701.1,167.9L701.4,153.4L699.1,146.6L699.5,137.9L700.1,129.1Z" fill="#d99392" stroke="#d99392" stroke-width="0.5"/>
<path d="M723.1,129.0L724.3,124.9L728.3,123.9L728.9,137.9L729.6,156.9L731.6,161.6L733.0,162.5L731.6,165.9L729.3,165.9L726.2,168.1L725.6,168.8L711.2,168.3L711.3,163.7L711.9,158.6L714.4,151.7L716.3,144.8L721.9,137.9L723.1,129.0Z" fill="#d99392" stroke="#d99392" stroke-width="0.5"/>
<path d="M728.3,123.9L731.2,124.7L736.8,115.9L738.6,106.0L741.1,103.9L751.3,85.0L753.5,87.9L755.4,90.1L762.9,86.8L769.1,92.1L769.1,113.2L769.3,116.8L773.4,118.5L773.7,126.5L779.0,130.9L779.6,132.7L771.5,137.9L764.1,141.4L756.6,139.6L752.9,146.6L744.2,150.9L739.3,153.4L734.9,158.6L733.0,162.5L731.6,161.6L729.6,156.9L728.9,137.9L728.3,123.9Z" fill="#d99392" stroke="#d99392" stroke-width="0.5"/>
<path d="M594.9,441.9L598.9,441.0L598.9,440.0L594.9,441.0Z" fill="#760101" stroke="none"/>
<path d="M600.4,440.6L604.5,439.6L604.5,438.5L600.4,439.6Z" fill="#760101" stroke="none"/>
<path d="M605.7,439.2L609.5,436.9L609.1,435.9L605.7,438.2Z" fill="#760101" stroke="none"/>
<path d="M610.3,436.0L612.8,433.4L612.2,432.5L609.8,435.1Z" fill="#760101" stroke="none"/>
<path d="M121.6,305.8L126.3,306.1L126.7,307.1L122.2,307.4Z" fill="#c24443" stroke="none"/>
<path d="M117.6,306.8L121.0,306.8L120.7,308.3L118.3,308.3Z" fill="#c24443" stroke="none"/>
<path d="M115.1,305.8L117.0,306.1L116.8,306.8L115.3,306.5Z" fill="#c24443" stroke="none"/>
<path d="M138.1,314.6L141.6,316.5L141.6,317.3L139.4,316.8Z" fill="#c24443" stroke="none"/>
<path d="M138.1,321.3L141.2,324.4L140.4,324.7L137.9,322.0Z" fill="#c24443" stroke="none"/>
<path d="M126.0,317.6L127.9,318.5L127.6,318.8L126.0,318.3Z" fill="#c24443" stroke="none"/>
<path d="M81.2,63.8L84.1,61.5L86.2,62.9L86.0,66.6L82.9,66.6Z" fill="#d68581" stroke="none"/>
<path d="M86.6,67.5L89.1,68.5L91.5,75.0L89.1,74.1L88.4,71.3Z" fill="#d68581" stroke="none"/>
<path d="M503.0,77.2L507.0,74.1L512.6,71.6L510.7,74.1L505.8,76.8Z" fill="#cf7470" stroke="none"/>
<path d="M731.4,191.3L734.3,189.3L736.1,190.5L735.5,191.3Z" fill="#cf7470" stroke="none"/>
<path d="M738.9,192.2L741.1,191.7L742.1,192.7L740.5,193.2Z" fill="#cf7470" stroke="none"/>
<path d="M689.0,204.5L690.8,202.9L691.4,203.7L689.6,205.3Z" fill="#c85351" stroke="none"/>
</g>
<g fill="none" stroke="#909090" stroke-opacity="0.3" stroke-width="0.9" stroke-linejoin="round">
<path d="M86.5,56.2L157.6,56.2L157.5,103.7L158.5,107.8L159.0,111.4L133.4,111.4L131.9,112.7L125.7,112.9L118.3,116.2L112.0,116.2L105.8,118.4L101.9,116.4L95.9,118.5L90.9,119.1L86.3,117.7L86.0,113.7L84.5,109.6L81.0,108.7L77.3,106.8L72.3,107.5L70.2,106.4L70.8,98.8L69.2,94.7L67.3,87.9L65.5,82.4L62.4,75.0L62.0,67.9L71.1,71.6L77.9,72.4L82.2,73.1L85.7,72.6L87.2,75.9L86.2,79.6L85.3,85.7L82.5,87.0L83.7,92.8L87.2,91.9L90.9,88.4L91.9,84.2L91.4,80.5L93.0,75.0L90.9,70.3L89.7,65.7L89.1,61.0L86.2,58.1L86.5,56.2Z"/>
<path d="M70.2,106.4L72.3,107.5L77.3,106.8L81.0,108.7L84.5,109.6L86.0,113.7L86.3,117.7L90.9,119.1L95.9,118.5L101.9,116.4L105.8,118.4L112.0,116.2L118.3,116.2L125.7,112.9L131.9,112.7L133.4,111.4L159.0,111.4L161.1,115.0L164.2,119.4L162.0,124.7L159.9,129.7L157.4,133.5L155.3,138.2L155.5,141.4L158.6,143.1L158.9,146.6L157.6,149.5L157.6,180.5L120.7,180.5L68.4,180.5L66.1,173.8L64.2,166.4L66.1,158.6L68.3,155.2L69.4,146.6L70.2,136.1L70.9,129.1L71.6,120.3L71.4,113.2L71.7,107.8L70.2,106.4Z"/>
<path d="M68.4,180.5L120.7,180.5L120.7,229.5L187.4,291.8L188.2,294.8L190.3,299.3L193.4,302.3L190.3,305.3L189.0,311.3L186.6,315.8L189.0,321.7L186.3,325.9L156.5,328.7L154.3,321.7L150.5,315.8L144.3,311.3L140.6,310.6L139.4,306.8L135.6,306.4L130.1,304.6L124.5,300.8L114.9,300.1L113.0,297.8L112.7,289.5L109.6,285.7L104.6,281.1L102.1,276.5L97.1,271.9L96.5,267.3L98.4,264.2L95.9,261.7L90.9,258.0L89.7,253.3L89.7,248.6L83.5,245.4L83.5,240.7L78.5,235.9L74.8,229.5L73.5,221.5L70.4,213.4L66.1,206.3L69.2,196.3L69.8,188.9L68.4,180.5Z"/>
<path d="M120.7,180.5L157.6,180.5L194.8,180.5L194.8,261.1L194.6,273.4L190.3,274.2L185.9,275.7L186.6,282.6L188.2,288.7L187.4,291.8L120.7,229.5L120.7,180.5Z"/>
<path d="M157.6,56.2L169.8,56.2L169.8,75.4L173.9,85.1L179.1,88.8L183.5,93.4L187.8,99.7L191.2,99.7L189.7,107.8L190.3,113.2L188.4,119.3L191.5,120.7L195.9,117.0L197.7,120.3L202.1,128.3L202.1,131.4L206.4,133.5L207.7,138.8L210.2,140.3L216.4,136.8L222.0,137.4L226.3,137.0L226.9,134.0L228.2,133.9L231.9,138.4L231.9,180.5L194.8,180.5L157.6,180.5L157.6,149.5L158.9,146.6L158.6,143.1L155.5,141.4L155.3,138.2L157.4,133.5L159.9,129.7L162.0,124.7L164.2,119.4L161.1,115.0L159.0,111.4L158.5,107.8L157.5,103.7L157.6,56.2Z"/>
<path d="M169.8,56.2L318.8,56.2L318.8,112.5L318.8,129.1L231.9,129.1L231.9,138.4L228.2,133.9L226.9,134.0L226.3,137.0L222.0,137.4L216.4,136.8L210.2,140.3L207.7,138.8L206.4,133.5L202.1,131.4L202.1,128.3L197.7,120.3L195.9,117.0L191.5,120.7L188.4,119.3L190.3,113.2L189.7,107.8L191.2,99.7L187.8,99.7L183.5,93.4L179.1,88.8L173.9,85.1L169.8,75.4L169.8,56.2Z"/>
<path d="M231.9,138.4L231.9,129.1L318.8,129.1L318.8,163.7L318.8,197.1L256.7,197.1L231.9,197.1L231.9,180.5L231.9,138.4Z"/>
<path d="M194.8,180.5L231.9,180.5L231.9,197.1L256.7,197.1L256.7,261.1L194.8,261.1L194.8,180.5Z"/>
<path d="M194.8,261.1L256.7,261.1L256.7,346.2L231.6,346.2L185.2,329.1L186.3,325.9L189.0,321.7L186.6,315.8L189.0,311.3L190.3,305.3L193.4,302.3L190.3,299.3L188.2,294.8L187.4,291.8L188.2,288.7L186.6,282.6L185.9,275.7L190.3,274.2L194.6,273.4L194.8,261.1Z"/>
<path d="M256.7,261.1L331.9,261.1L331.4,268.8L331.1,336.5L286.8,336.5L288.0,339.7L267.2,339.7L267.2,346.2L256.7,346.2L256.7,261.1Z"/>
<path d="M256.7,197.1L318.8,197.1L343.7,197.1L343.7,213.4L343.8,261.1L331.9,261.1L256.7,261.1L256.7,197.1Z"/>
<path d="M318.8,56.2L403.5,56.2L404.5,65.7L405.8,75.0L408.3,84.2L408.9,93.4L409.5,100.6L411.4,106.0L411.9,112.5L318.8,112.5L318.8,56.2Z"/>
<path d="M318.8,112.5L411.9,112.5L408.3,118.5L413.2,123.9L413.2,155.2L411.6,158.6L413.2,162.8L411.1,167.9L413.2,172.3L410.1,170.5L406.4,167.6L401.4,166.1L394.0,167.6L387.8,163.7L318.8,163.7L318.8,129.1L318.8,112.5Z"/>
<path d="M318.8,163.7L387.8,163.7L394.0,167.6L401.4,166.1L406.4,167.6L410.1,170.5L413.2,172.3L415.1,177.2L417.6,183.9L419.7,190.5L420.1,193.8L420.7,198.8L421.7,204.0L424.4,208.6L427.4,213.4L343.7,213.4L343.7,197.1L318.8,197.1L318.8,163.7Z"/>
<path d="M343.7,213.4L427.4,213.4L432.5,217.5L430.0,220.7L436.1,227.8L436.0,261.1L343.8,261.1L343.7,213.4Z"/>
<path d="M331.9,261.1L343.8,261.1L436.0,261.1L436.0,268.8L438.3,285.7L437.7,312.2L427.5,308.6L421.3,309.1L413.8,310.3L408.9,309.1L403.9,309.8L395.2,308.6L392.7,304.9L386.5,304.6L379.1,302.3L372.9,300.8L369.1,298.4L369.1,268.8L331.4,268.8L331.9,261.1Z"/>
<path d="M331.4,268.8L369.1,268.8L369.1,298.4L372.9,300.8L379.1,302.3L386.5,304.6L392.7,304.9L395.2,308.6L403.9,309.8L408.9,309.1L413.8,310.3L421.3,309.1L427.5,308.6L437.7,312.2L443.2,313.6L443.2,321.4L443.2,336.5L446.1,342.3L449.2,348.4L447.4,356.8L446.8,361.1L445.5,369.7L438.7,371.9L434.3,374.7L428.8,380.4L418.8,386.8L408.9,392.4L403.9,399.5L401.4,407.9L402.7,414.8L404.5,422.3L400.2,423.8L391.5,421.0L380.3,416.2L376.0,407.9L375.3,400.9L365.4,389.6L361.1,378.3L358.0,374.7L351.7,368.7L340.6,367.2L335.6,369.7L330.0,380.0L319.5,375.5L314.5,371.9L308.3,356.8L302.1,353.2L292.1,344.2L288.0,339.7L286.8,336.5L331.1,336.5L331.4,268.8Z"/>
<path d="M403.5,56.2L429.4,56.2L429.4,49.0L433.5,50.2L435.6,61.0L443.7,62.9L449.9,64.7L456.7,63.2L462.3,66.6L468.5,69.4L475.9,73.7L483.4,71.3L493.3,73.1L499.5,75.0L489.6,79.6L477.2,88.8L467.3,97.9L464.9,99.6L464.9,110.0L459.2,114.1L457.6,118.5L460.4,122.1L459.2,127.4L458.6,133.5L462.3,136.7L468.5,139.6L472.2,144.8L477.2,149.1L478.2,155.2L413.2,155.2L413.2,123.9L408.3,118.5L411.9,112.5L411.4,106.0L409.5,100.6L408.9,93.4L408.3,84.2L405.8,75.0L404.5,65.7L403.5,56.2Z"/>
<path d="M413.2,155.2L478.2,155.2L478.4,162.0L479.1,165.4L484.6,169.8L485.4,172.0L490.9,178.9L491.5,183.9L489.0,188.0L480.3,190.5L479.7,197.1L481.5,198.8L475.9,204.5L475.7,207.3L471.9,203.5L421.7,204.0L420.7,198.8L420.1,193.8L419.7,190.5L417.6,183.9L415.1,177.2L413.2,172.3L411.1,167.9L413.2,162.8L411.6,158.6L413.2,155.2Z"/>
<path d="M421.7,204.0L471.9,203.5L475.7,207.3L474.7,213.4L476.6,217.5L481.5,223.1L484.6,227.9L485.3,231.1L490.9,231.9L491.1,235.9L489.0,242.3L494.6,247.0L499.5,252.5L499.5,256.4L504.1,261.4L503.3,267.3L500.2,268.8L498.3,273.4L497.1,276.5L488.7,276.5L491.5,268.8L436.0,268.8L436.0,261.1L436.1,227.8L430.0,220.7L432.5,217.5L427.4,213.4L424.4,208.6L421.7,204.0Z"/>
<path d="M436.0,268.8L491.5,268.8L488.7,276.5L497.1,276.5L494.6,282.6L492.1,288.7L489.6,291.8L485.9,297.8L482.2,303.8L479.7,311.3L478.8,321.7L443.2,321.4L443.2,313.6L437.7,312.2L438.3,285.7L436.0,268.8Z"/>
<path d="M443.2,321.4L478.8,321.7L479.7,327.6L482.2,332.1L479.1,337.9L474.7,343.8L473.1,351.0L496.7,351.0L495.2,356.1L497.7,361.1L499.3,362.9L495.8,364.0L498.3,366.9L501.4,368.3L499.5,371.2L503.3,375.5L505.8,377.6L500.8,380.4L499.5,376.2L494.6,375.5L490.9,378.3L483.4,379.0L477.2,375.5L471.0,372.6L466.0,371.9L459.8,371.2L452.4,368.7L445.5,369.7L446.8,361.1L447.4,356.8L449.2,348.4L446.1,342.3L443.2,336.5L443.2,321.4Z"/>
<path d="M467.3,97.9L478.4,95.7L482.8,94.3L484.0,99.7L488.1,101.2L492.1,106.0L504.5,109.1L508.2,111.1L516.9,112.9L520.7,117.7L520.0,123.0L523.1,127.4L518.2,137.0L521.3,135.3L526.2,125.6L530.0,124.2L526.9,131.8L524.4,137.9L521.9,146.6L519.4,158.6L520.7,172.3L485.4,172.0L484.6,169.8L479.1,165.4L478.4,162.0L478.2,155.2L477.2,149.1L472.2,144.8L468.5,139.6L462.3,136.7L458.6,133.5L459.2,127.4L460.4,122.1L457.6,118.5L459.2,114.1L464.9,110.0L464.9,99.6L467.3,97.9Z"/>
<path d="M485.4,172.0L520.7,172.3L523.1,183.0L524.1,185.5L524.0,223.9L523.1,227.9L524.4,234.3L521.3,239.1L518.8,242.3L517.6,248.6L516.9,253.3L512.6,254.8L512.0,260.0L507.0,258.0L504.1,261.4L499.5,256.4L499.5,252.5L494.6,247.0L489.0,242.3L491.1,235.9L490.9,231.9L485.3,231.1L484.6,227.9L481.5,223.1L476.6,217.5L474.7,213.4L475.7,207.3L475.9,204.5L481.5,198.8L479.7,197.1L480.3,190.5L489.0,188.0L491.5,183.9L490.9,178.9L485.4,172.0Z"/>
<path d="M532.8,184.5L536.8,178.9L539.9,172.1L540.5,163.7L536.8,153.4L537.4,144.8L539.9,134.4L545.5,129.1L548.6,125.6L549.2,132.7L551.1,124.7L555.4,122.1L555.4,117.7L558.8,115.3L565.4,118.0L575.3,124.7L576.6,130.9L576.6,141.4L569.1,148.3L569.1,152.6L575.3,147.4L581.5,145.7L585.2,153.4L587.5,163.7L586.5,170.5L581.5,174.7L578.4,179.7L574.7,185.0L557.9,184.5L532.8,184.5Z"/>
<path d="M488.1,101.2L495.8,96.7L503.3,94.3L512.0,89.7L520.7,85.1L515.7,93.4L512.6,97.0L519.4,95.2L525.6,101.5L535.6,103.3L544.3,98.8L555.4,97.6L560.4,103.3L563.5,102.4L566.6,107.8L572.8,109.6L569.1,112.3L559.2,114.1L549.2,110.0L539.3,113.2L535.6,118.5L530.6,115.9L528.1,118.5L523.1,127.4L520.0,123.0L520.7,117.7L516.9,112.9L508.2,111.1L504.5,109.1L492.1,106.0L488.1,101.2Z"/>
<path d="M524.1,185.5L528.1,186.7L532.8,184.5L557.9,184.5L557.7,227.9L557.3,231.1L553.0,234.3L549.8,234.3L547.4,240.7L544.3,245.4L539.3,243.0L536.8,246.5L530.6,247.0L523.1,246.2L519.4,247.0L517.6,248.6L518.8,242.3L521.3,239.1L524.4,234.3L523.1,227.9L524.0,223.9L524.1,185.5Z"/>
<path d="M557.9,184.5L574.7,185.0L580.3,188.0L584.0,189.7L592.7,188.9L596.4,188.9L605.1,183.0L611.1,180.9L611.1,203.0L610.1,210.2L606.7,218.3L599.5,223.1L595.8,226.3L595.8,229.5L590.2,231.1L590.2,235.9L585.2,238.8L580.3,234.0L571.6,235.4L565.4,232.7L561.6,227.9L557.7,227.9L557.9,184.5Z"/>
<path d="M517.6,248.6L519.4,247.0L523.1,246.2L530.6,247.0L536.8,246.5L539.3,243.0L544.3,245.4L547.4,240.7L549.8,234.3L553.0,234.3L557.3,231.1L557.7,227.9L561.6,227.9L565.4,232.7L571.6,235.4L580.3,234.0L585.2,238.8L585.2,242.3L587.7,247.8L593.1,252.6L589.0,256.4L579.0,263.4L571.8,267.3L517.6,266.0L517.6,268.8L500.2,268.8L503.3,267.3L504.1,261.4L507.0,258.0L512.0,260.0L512.6,254.8L516.9,253.3L517.6,248.6Z"/>
<path d="M500.2,268.8L517.6,268.8L517.6,266.0L571.8,267.3L596.7,267.4L592.7,275.0L585.2,276.5L579.0,280.0L574.1,283.1L567.9,285.7L564.1,288.7L563.9,291.9L548.0,291.8L515.7,291.8L489.6,291.8L492.1,288.7L494.6,282.6L497.1,276.5L498.3,273.4L500.2,268.8Z"/>
<path d="M489.6,291.8L515.7,291.8L516.9,293.3L512.8,343.8L513.2,360.4L507.0,359.7L502.0,361.1L499.3,362.9L497.7,361.1L495.2,356.1L496.7,351.0L473.1,351.0L474.7,343.8L479.1,337.9L482.2,332.1L479.7,327.6L478.8,321.7L479.7,311.3L482.2,303.8L485.9,297.8L489.6,291.8Z"/>
<path d="M515.7,291.8L548.0,291.8L553.2,323.7L555.4,332.1L554.8,342.3L555.4,351.0L523.1,351.0L525.6,356.1L524.1,361.4L521.3,361.9L519.4,359.7L518.2,356.1L516.9,361.9L513.2,360.4L512.8,343.8L516.9,293.3L515.7,291.8Z"/>
<path d="M548.0,291.8L563.9,291.9L579.0,291.8L575.9,296.3L579.0,298.6L585.2,306.8L593.3,314.3L598.9,321.7L603.3,332.1L607.0,336.0L602.6,343.8L599.5,355.2L592.7,354.7L592.1,360.3L590.2,357.2L557.2,355.4L555.4,351.0L554.8,342.3L555.4,332.1L553.2,323.7L548.0,291.8Z"/>
<path d="M524.1,361.4L536.8,360.0L546.7,364.0L551.1,370.0L556.7,369.7L564.1,364.4L571.6,366.2L575.3,372.6L582.8,377.6L584.6,387.5L582.1,396.0L587.1,397.4L584.6,402.3L589.0,410.6L592.9,415.5L594.2,421.7L600.1,427.2L602.9,433.4L612.6,432.7L615.1,425.2L616.9,410.6L612.6,398.1L610.1,388.2L605.1,376.9L601.4,366.9L600.1,359.7L599.5,355.2L592.7,354.7L592.1,360.3L590.2,357.2L557.2,355.4L555.4,351.0L523.1,351.0L525.6,356.1L524.1,361.4Z"/>
<path d="M579.0,291.8L587.7,288.7L604.5,289.5L604.5,291.0L606.0,290.3L607.8,294.5L621.6,294.8L635.5,308.8L631.8,311.3L628.7,315.8L626.2,320.3L618.8,326.2L611.9,331.3L607.0,336.0L603.3,332.1L598.9,321.7L593.3,314.3L585.2,306.8L579.0,298.6L575.9,296.3L579.0,291.8Z"/>
<path d="M596.7,267.4L669.1,268.0L670.4,272.7L666.0,273.9L662.5,275.0L665.5,277.0L671.4,278.6L672.8,280.0L673.3,282.6L669.0,284.5L663.0,285.6L659.0,286.8L662.0,288.3L667.4,289.5L663.5,293.3L660.6,297.8L654.8,296.8L648.0,301.6L642.4,308.6L635.5,308.8L621.6,294.8L607.8,294.5L606.0,290.3L604.5,291.0L604.5,289.5L587.7,288.7L579.0,291.8L563.9,291.9L564.1,288.7L567.9,285.7L574.1,283.1L579.0,280.0L585.2,276.5L592.7,275.0L596.7,267.4Z"/>
<path d="M593.1,252.6L596.7,258.0L602.3,257.2L606.4,256.4L613.8,253.3L621.9,236.2L627.1,237.8L631.6,233.4L638.0,222.2L644.5,227.3L645.9,224.4L648.6,227.9L653.3,230.7L654.3,232.7L651.1,239.1L654.8,240.7L659.8,243.8L664.1,247.0L663.5,253.3L662.2,258.0L663.5,261.1L667.2,262.6L669.1,268.0L596.7,267.4L571.8,267.3L579.0,263.4L589.0,256.4L593.1,252.6Z"/>
<path d="M669.7,246.2L667.2,253.3L667.2,259.2L672.2,253.3L676.5,244.9L669.7,246.2Z"/>
<path d="M611.1,203.0L611.1,218.0L624.0,218.0L624.0,226.3L628.7,222.0L633.7,219.9L636.8,221.0L639.9,218.6L644.2,219.9L645.9,224.4L644.5,227.3L638.0,222.2L631.6,233.4L627.1,237.8L621.9,236.2L613.8,253.3L606.4,256.4L602.3,257.2L596.7,258.0L593.1,252.6L587.7,247.8L585.2,242.3L585.2,238.8L590.2,235.9L590.2,231.1L595.8,229.5L595.8,226.3L599.5,223.1L606.7,218.3L610.1,210.2L611.1,203.0Z"/>
<path d="M624.0,218.0L669.8,218.0L670.9,238.1L679.0,238.3L676.5,244.9L669.7,246.2L667.6,245.4L664.5,240.7L662.9,234.3L663.5,228.7L666.8,222.3L666.0,220.7L661.6,226.3L661.0,232.7L662.2,240.7L664.1,247.0L659.8,243.8L654.8,240.7L651.1,239.1L654.3,232.7L653.3,230.7L648.6,227.9L645.9,224.4L644.2,219.9L639.9,218.6L636.8,221.0L633.7,219.9L628.7,222.0L624.0,226.3L624.0,218.0Z"/>
<path d="M669.8,218.0L672.2,216.0L674.4,216.7L672.8,221.5L674.7,225.5L678.4,232.7L679.0,238.3L670.9,238.1L669.8,218.0Z"/>
<path d="M611.1,180.9L620.5,176.0L620.5,180.5L675.3,180.5L678.8,184.4L683.4,191.2L678.0,197.6L677.2,202.9L679.0,206.9L682.7,210.2L678.4,215.1L674.4,216.7L672.2,216.0L669.8,218.0L624.0,218.0L611.1,218.0L611.1,203.0L611.1,180.9Z"/>
<path d="M683.4,191.2L693.3,197.1L691.7,202.0L689.0,205.3L692.1,206.1L691.4,213.4L689.6,219.9L687.1,223.1L680.9,230.7L679.0,226.3L674.7,223.1L672.8,219.9L674.4,216.7L678.4,215.1L682.7,210.2L679.0,206.9L677.2,202.9L678.0,197.6L683.4,191.2Z"/>
<path d="M620.5,176.0L631.2,166.2L629.3,159.3L642.4,157.4L654.8,158.9L661.0,155.2L664.7,153.4L663.5,146.6L662.9,144.3L669.7,138.8L675.9,132.1L683.1,129.1L700.1,129.1L699.5,137.9L699.1,146.6L701.4,153.4L701.1,167.9L698.3,179.7L697.6,192.2L698.5,193.8L695.4,195.5L696.3,197.1L694.5,200.4L704.5,197.6L713.2,194.6L718.6,196.0L710.7,199.9L700.8,203.2L692.7,204.2L691.6,203.3L693.3,197.1L683.4,191.2L678.8,184.4L675.3,180.5L620.5,180.5L620.5,176.0Z"/>
<path d="M698.3,179.7L719.4,180.2L719.4,190.2L718.6,191.8L712.5,192.5L705.7,193.0L703.2,194.6L696.3,197.1L695.4,195.5L698.5,193.8L697.6,192.2L698.3,179.7Z"/>
<path d="M719.4,180.2L724.6,180.2L724.6,182.2L726.8,185.5L727.8,188.9L726.8,189.3L726.2,187.2L724.3,186.4L723.1,191.0L718.6,191.8L719.4,190.2L719.4,180.2Z"/>
<path d="M701.1,167.9L711.2,168.3L725.6,168.8L726.2,168.1L729.3,165.9L731.6,165.9L734.3,169.6L730.6,172.1L729.3,175.5L733.0,177.2L733.7,181.4L735.5,184.2L740.5,184.5L741.7,183.5L740.9,181.4L739.3,180.0L738.6,179.2L741.1,179.7L742.6,183.9L742.4,186.0L734.3,188.0L732.4,185.5L727.8,188.9L726.8,185.5L724.6,182.2L724.6,180.2L719.4,180.2L698.3,179.7L701.1,167.9Z"/>
<path d="M700.1,129.1L723.1,129.0L721.9,137.9L716.3,144.8L714.4,151.7L711.9,158.6L711.3,163.7L711.2,168.3L701.1,167.9L701.4,153.4L699.1,146.6L699.5,137.9L700.1,129.1Z"/>
<path d="M723.1,129.0L724.3,124.9L728.3,123.9L728.9,137.9L729.6,156.9L731.6,161.6L733.0,162.5L731.6,165.9L729.3,165.9L726.2,168.1L725.6,168.8L711.2,168.3L711.3,163.7L711.9,158.6L714.4,151.7L716.3,144.8L721.9,137.9L723.1,129.0Z"/>
<path d="M728.3,123.9L731.2,124.7L736.8,115.9L738.6,106.0L741.1,103.9L751.3,85.0L753.5,87.9L755.4,90.1L762.9,86.8L769.1,92.1L769.1,113.2L769.3,116.8L773.4,118.5L773.7,126.5L779.0,130.9L779.6,132.7L771.5,137.9L764.1,141.4L756.6,139.6L752.9,146.6L744.2,150.9L739.3,153.4L734.9,158.6L733.0,162.5L731.6,161.6L729.6,156.9L728.9,137.9L728.3,123.9Z"/>
</g>
<g font-family="Liberation Sans, sans-serif" fill="#9a9a9f" fill-opacity="0.75">
<text x="475.0" y="431.0" font-size="6.5" letter-spacing="0.3" font-style="italic">Gulf of</text>
<text x="478.0" y="442.0" font-size="6.5" letter-spacing="0.3" font-style="italic">Mexico</text>
<text x="358.0" y="454.0" font-size="7.0" letter-spacing="0.0">D</text>
<text x="707.0" y="515.5" font-size="5.6" letter-spacing="0.5">DOMINICAN REPUBLIC</text>
<text x="764.0" y="528.5" font-size="5.6" letter-spacing="0.5">PUERTO RICO</text>
<text x="637.0" y="528.5" font-size="5.6" letter-spacing="0.5">JAMAICA</text>
<text x="499.0" y="542.0" font-size="5.6" letter-spacing="0.5">BELIZE</text>
<text x="519.0" y="572.0" font-size="5.6" letter-spacing="0.5">HONDURAS</text>
</g>
</svg>
<div class="ins" style="left:9px;top:331px;width:163px;height:166px"><svg width="163" height="166" viewBox="0 0 163 166">
<g fill="#efefef" stroke="none" stroke-width="0.5">
<path d="M-36.5,-3.3L-36.5,36.6L-32.2,37.4L-25.1,35.8L-16.5,35.8L-12.8,33.7L-6.5,32.5L-6.5,41.4L2.0,34.9L9.1,34.9L16.3,38.2L22.0,42.1L27.7,46.8L34.8,53.5L40.5,56.4L44.8,57.1L49.9,62.8L47.3,66.3L42.8,67.6L42.5,73.6L39.6,74.9L33.4,71.6L30.5,66.9L24.8,66.9L24.0,62.1L21.1,66.9L19.1,71.6L13.4,72.3L16.3,74.9L18.6,84.4L18.0,87.5L10.6,89.3L4.9,90.5L0.6,93.4L-6.5,100.9L-12.2,98.1L-18.5,101.8L-22.8,101.5L-27.0,102.0L-27.0,109.2L-30.8,112.4L-27.3,113.5L-27.0,121.2L-30.8,121.2L-31.3,127.2L-36.5,132.1L-36.5,-3.3Z"/>
<path d="M16.6,24.0L22.0,20.0L27.7,22.2L26.8,25.3L22.0,26.2L18.3,25.7Z"/>
<path d="M131.7,36.2L131.7,99.2L136.8,98.9L137.1,100.4L141.4,105.1L141.7,107.0L144.8,103.7L147.4,102.0L148.8,104.3L151.6,107.6L154.2,111.9L155.9,116.1L157.9,119.2L162.8,121.7L163.0,122.7L161.9,128.7L163.0,131.1L164.5,134.5L166.2,138.7L168.5,140.5L169.0,142.8L169.9,145.5L171.6,146.6L177.3,149.5L182.4,153.5L183.0,154.7L183.6,155.2L184.4,157.7L183.0,162.4L180.1,166.1L180.1,171.3L179.6,179.1L179.3,188.6L197.2,188.6L197.2,-13.9L177.3,-13.9L168.8,30.0L160.2,33.3L153.1,38.2L147.4,40.6L141.7,41.8L136.8,37.0Z"/>
<path d="M160.2,140.5L158.2,136.8L158.5,132.1L154.5,131.6L155.6,135.4L157.3,138.7L159.6,141.4Z"/>
<path d="M167.6,147.0L170.5,147.1L176.6,150.3L180.3,154.0L182.1,157.2L179.0,156.7L174.7,154.1L169.0,150.0Z"/>
</g>
<path d="M20.6,0V170M0,59.8H170" stroke="#fff" stroke-opacity="0.22" stroke-width="1.2" fill="none"/>
<g fill="#d99392" stroke="#c98a89" stroke-width="0.5">
<path d="M131.7,36.2L124.6,32.5L117.4,31.7L110.3,30.0L104.6,29.1L98.9,26.2L93.2,24.9L87.5,21.8L83.2,26.2L77.5,29.1L72.1,30.8L69.0,35.8L64.7,41.4L59.9,42.3L58.2,46.4L61.9,49.1L66.1,52.0L69.0,56.4L72.4,57.1L73.3,61.4L67.6,62.8L64.7,60.0L60.4,61.8L54.5,66.3L59.0,69.0L59.6,73.0L62.2,73.6L69.0,73.6L74.7,73.6L74.1,71.3L75.3,74.3L75.3,77.7L73.3,80.4L71.6,80.0L67.6,82.6L63.9,85.6L61.9,89.3L60.2,91.7L61.9,94.6L62.7,98.1L66.1,100.9L71.0,100.4L71.8,104.8L71.3,108.4L76.1,107.6L81.8,107.6L84.7,108.1L86.1,107.6L84.1,114.0L81.3,117.6L76.1,122.2L70.4,125.7L68.1,127.2L63.6,129.2L67.9,128.7L71.8,126.7L77.5,123.6L81.8,121.2L86.1,117.9L88.9,114.5L91.8,112.4L94.1,110.3L96.1,106.8L97.5,103.7L100.3,99.2L103.2,95.2L106.0,94.0L104.6,95.8L102.1,98.1L100.6,103.2L100.6,105.4L106.0,103.7L107.8,100.9L110.9,100.9L111.8,96.4L116.0,95.2L118.0,98.1L121.7,100.4L128.8,100.9L131.7,101.5L135.4,103.4L140.2,106.5L143.1,109.2L144.5,110.8L145.1,112.9L147.7,117.1L149.7,121.2L151.6,123.2L153.9,128.7L158.8,128.7L161.3,128.7L163.0,122.7L162.8,121.7L157.9,119.2L155.9,116.1L154.2,111.9L151.6,107.6L148.8,104.3L147.4,102.0L144.8,103.7L141.7,107.0L141.4,105.1L137.1,100.4L136.8,98.9L131.7,99.2Z"/>
<path d="M92.9,114.0L95.2,112.4L97.8,110.3L99.8,112.4L98.6,115.0L95.2,118.2L92.9,116.6Z"/>
<path d="M43.9,80.7L47.6,78.8L51.9,81.3L52.5,82.2L49.0,82.6L44.8,81.3Z"/>
<path d="M56.7,99.8L59.6,98.7L61.6,99.8L61.0,101.8L58.2,102.0Z"/>
<path d="M40.8,97.5L42.2,98.7L41.6,99.2L40.5,98.1Z"/>
<path d="M47.9,115.8L48.8,116.1L48.2,116.6Z"/>
<path d="M55.0,135.4L59.6,132.1L59.9,133.0L56.2,135.6Z"/>
<path d="M51.6,137.7L54.7,134.5L55.0,135.4L52.2,137.7Z"/>
<path d="M46.5,139.1L49.9,137.3L49.9,138.0L46.8,139.6Z"/>
<path d="M34.2,141.4L37.6,139.6L41.9,139.6L41.9,140.3L37.6,141.0L34.5,141.9Z"/>
<path d="M25.7,142.4L30.5,141.4L31.9,141.7L30.5,143.0L26.2,143.3Z"/>
</g>
</svg></div>
<div class="ins" style="left:204px;top:397px;width:147px;height:100px"><svg width="147" height="100" viewBox="0 0 147 100">
<path d="M74.5,0V110M0,35.6H160" stroke="#fff" stroke-opacity="0.3" stroke-width="1.2" fill="none"/>
<g fill="#cf7470" stroke="#cf7470" stroke-width="0.5">
<path d="M98.8,62.9L103.0,65.2L109.0,67.6L110.8,71.6L114.8,74.9L112.0,77.9L104.5,81.1L101.8,84.4L98.5,81.6L98.8,77.6L96.1,71.6L99.5,66.8Z"/>
<path d="M86.5,52.0L88.7,50.9L93.2,52.0L97.3,54.9L95.5,57.2L91.0,58.0L90.0,54.8L87.2,54.4Z"/>
<path d="M86.5,58.5L88.7,57.6L89.0,58.9L87.0,59.3Z"/>
<path d="M81.2,52.5L84.3,53.6L84.7,55.2L82.3,55.6L81.1,54.0Z"/>
<path d="M77.3,49.6L78.2,47.7L82.8,48.3L86.3,48.7L83.9,50.4L80.5,49.9Z"/>
<path d="M62.8,41.9L65.5,41.6L67.5,39.8L71.2,44.0L72.2,46.4L69.7,47.0L65.2,46.4L63.6,43.7Z"/>
<path d="M40.2,34.3L43.0,31.4L46.0,31.4L47.7,33.0L47.0,35.9L45.3,37.2L43.0,36.7L40.4,35.6Z"/>
<path d="M33.2,38.3L35.5,35.1L36.2,35.4L34.3,38.3Z"/>
</g>
</svg></div>
<div class="ins" style="left:436px;top:439px;width:81px;height:58px"><svg width="81" height="58" viewBox="0 0 81 58">
<g fill="#c24443" stroke="#c24443" stroke-width="0.5">
<path d="M23.8,26.1L26.4,23.0L28.3,21.9L41.6,22.7L54.8,23.3L64.1,25.3L67.5,25.8L67.3,30.3L62.0,35.9L57.5,37.2L46.9,37.8L41.6,37.2L32.3,37.8L25.7,37.8L25.7,31.7Z"/>
<path d="M68.6,33.1L73.4,32.0L76.8,32.5L72.0,34.2Z"/>
<path d="M74.9,27.2L77.1,26.9L77.3,28.3L75.5,28.3Z"/>
<path d="M5.8,33.3L7.9,33.1L8.4,34.7L6.3,35.0Z"/>
</g>
</svg></div>
<div class="ins" style="left:553px;top:455px;width:39px;height:42px"><svg width="39" height="42" viewBox="0 0 39 42">
<g fill="#c85351" stroke="#c85351" stroke-width="0.5">
<path d="M7.5,1.7L12.5,0.0L18.5,3.5L14.1,4.6L8.1,3.5Z"/>
<path d="M20.7,1.7L26.2,1.2L28.4,4.1L23.5,5.2L20.7,3.5Z"/>
<path d="M15.2,41.1L16.3,35.9L23.5,34.7L33.4,36.4L33.9,37.6L26.2,39.9Z"/>
</g>
</svg></div>
<div class="ins" style="left:619px;top:455px;width:40px;height:42px"><svg width="40" height="42" viewBox="0 0 40 42">
<g fill="#d99392" stroke="#d99392" stroke-width="0.5">
<path d="M26.5,1.5L32.0,2.5L36.2,6.0L32.0,12.4L25.6,18.7L22.0,23.3L21.1,30.5L16.5,39.6L11.1,41.8L6.5,37.8L4.7,28.7L3.5,21.5L9.3,18.7L17.5,16.9L20.2,12.4L22.9,6.9Z"/>
</g>
</svg></div>
<div class="title">1980-2023 Billion-Dollar Weather and Climate Disaster Cost (CPI-Adjusted)</div>
<svg class="logo" width="44" height="44" viewBox="0 0 44 44">
<defs><clipPath id="lc"><circle cx="22" cy="22" r="21.1"/></clipPath></defs>
<g clip-path="url(#lc)">
<rect x="0" y="0" width="44" height="44" fill="#0b9bd9"/>
<path d="M0,0H44V8L39.5,8.5C37.5,10.5 35.5,13.2 33.6,15.8C30,20.5 26,24 22.5,24.5C21,24.7 19,23.8 16,21.5C13,19.5 8,13.5 3.9,10.4L0,11.5Z" fill="#0a4596"/>
<path d="M0,11.5L3.9,10.4C8,13.5 13,19.5 16,21.5C19,23.8 21,24.7 22.5,24.5C26,24 30,20.5 33.6,15.8C35.5,13.2 37.5,10.5 39.5,8.5L44,11C40.5,15 37.5,18.5 35.6,20.8C34,23 33,24.5 31.9,26C30,27 27,27.6 24.5,28.2C22,29.5 19,30.8 15,31C17.5,30 19.5,28.8 20.5,27.6C17,26.5 13,23 9.5,20C6.5,17.8 3,16.8 0,17Z" fill="#fff"/>
</g>
<text transform="translate(21.4,15) scale(0.78,1)" x="0" y="0" text-anchor="middle" font-family="Liberation Sans, sans-serif" font-weight="bold" font-size="7.3" fill="#fff" letter-spacing="0.3">NOAA</text>
</svg>
<div class="legend"><div class="lt">Cost</div>
<div class="lr" style="top:21.30px"><span class="sw" style="background:#efe3e4"></span><span class="ll">$5M–100M</span></div>
<div class="lr" style="top:40.03px"><span class="sw" style="background:#ecd4d5"></span><span class="ll">$100M–250M</span></div>
<div class="lr" style="top:58.76px"><span class="sw" style="background:#e7c4c7"></span><span class="ll">$250M–500M</span></div>
<div class="lr" style="top:77.49px"><span class="sw" style="background:#e3b2b3"></span><span class="ll">$500M–1B</span></div>
<div class="lr" style="top:96.22px"><span class="sw" style="background:#dea4a3"></span><span class="ll">$1B–2B</span></div>
<div class="lr" style="top:114.95px"><span class="sw" style="background:#d99392"></span><span class="ll">$2B–5B</span></div>
<div class="lr" style="top:133.68px"><span class="sw" style="background:#d68581"></span><span class="ll">$5B–10B</span></div>
<div class="lr" style="top:152.41px"><span class="sw" style="background:#cf7470"></span><span class="ll">$10B–20B</span></div>
<div class="lr" style="top:171.14px"><span class="sw" style="background:#cd6763"></span><span class="ll">$20B–50B</span></div>
<div class="lr" style="top:189.87px"><span class="sw" style="background:#c85351"></span><span class="ll">$50B–100B</span></div>
<div class="lr" style="top:208.60px"><span class="sw" style="background:#c24443"></span><span class="ll">$100B–200B</span></div>
<div class="lr" style="top:227.33px"><span class="sw" style="background:#b93030"></span><span class="ll">$200B–300B</span></div>
<div class="lr" style="top:246.06px"><span class="sw" style="background:#760101"></span><span class="ll">$300B+</span></div>
</div>
<div class="bp"><div class="bt">United States</div>
<span class="bs" style="left:17.3px;top:34.8px;background:#c49102"></span>
<span class="bl" style="left:36.4px;top:34.0px">Drought:</span>
<span class="bv" style="right:615.5px;top:34.0px">$350B+</span>
<span class="bs" style="left:215.8px;top:34.8px;background:#0f40d0"></span>
<span class="bl" style="left:234.9px;top:34.0px">Flooding:</span>
<span class="bv" style="right:417.0px;top:34.0px">$100B–200B</span>
<span class="bs" style="left:414.8px;top:34.8px;background:#0d96cf"></span>
<span class="bl" style="left:433.9px;top:34.0px">Freeze:</span>
<span class="bv" style="right:217.0px;top:34.0px">$20B–50B</span>
<span class="bs" style="left:614.3px;top:34.8px;background:#09a82b"></span>
<span class="bl" style="left:633.4px;top:34.0px">Severe Storm:</span>
<span class="bv" style="right:18.0px;top:34.0px">$450B+</span>
<span class="bs" style="left:17.3px;top:57.8px;background:#fdd14b"></span>
<span class="bl" style="left:36.4px;top:57.0px">Tropical Cyclone:</span>
<span class="bv" style="right:615.5px;top:57.0px">$1.3T+</span>
<span class="bs" style="left:215.8px;top:57.8px;background:#fb8107"></span>
<span class="bl" style="left:234.9px;top:57.0px">Wildfire:</span>
<span class="bv" style="right:417.0px;top:57.0px">$100B–200B</span>
<span class="bs" style="left:414.8px;top:57.8px;background:#9607d0"></span>
<span class="bl" style="left:433.9px;top:57.0px">Winter Storm:</span>
<span class="bv" style="right:217.0px;top:57.0px">$50B–100B</span>
<span class="bs" style="left:614.3px;top:57.8px;background:#c43a3a"></span>
<span class="bl" style="left:633.4px;top:57.0px">All Disasters:</span>
<span class="bv" style="right:18.0px;top:57.0px">$2.6T+</span>
</div>
</div>
</body></html>
